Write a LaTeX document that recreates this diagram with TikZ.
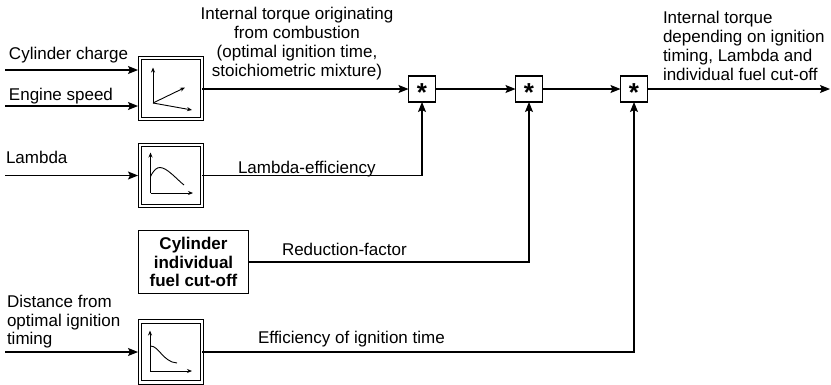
\documentclass[tikz,border=0pt]{standalone}
\usepackage{fontspec}
\setmainfont{Liberation Sans}
\usetikzlibrary{arrows.meta,calc}
\begin{document}
\begin{tikzpicture}[x=1pt,y=-1pt,
  every node/.style={inner sep=0pt, outer sep=0pt},
  lbl/.style={font=\fontsize{17}{18.7}\selectfont},
  mapbox/.style={draw, double, double distance=2.5pt, line width=1pt, minimum width=62pt, minimum height=61pt},
  cutbox/.style={draw, line width=1.1pt, minimum width=110pt, minimum height=63pt, align=center, font=\fontsize{17}{18.5}\selectfont\bfseries},
  mul/.style={draw, line width=1.1pt, minimum width=27pt, minimum height=26pt, font=\fontsize{26}{26}\selectfont\bfseries},
  arr/.style={line width=1.1pt, -{Stealth[length=10pt, width=8pt, inset=2pt]}},
  icon/.style={line width=0.9pt, -{Stealth[length=5pt, width=4pt]}},
  curve/.style={line width=0.9pt}
]
\useasboundingbox (0,0) rectangle (831,384);

% blocks
\node[mapbox] (map1) at (171,88.5) {};
\node[mapbox] (map2) at (171,175.5) {};
\node[cutbox] (cut) at (193.5,262) {Cylinder\\individual\\fuel cut-off};
\node[mapbox] (map3) at (171,352) {};

\node[mul] (m1) at (422,89) {\smash{\raisebox{-12pt}{*}}};
\node[mul] (m2) at (529,89) {\smash{\raisebox{-12pt}{*}}};
\node[mul] (m3) at (634,89) {\smash{\raisebox{-12pt}{*}}};

% icons
\begin{scope}[shift={(map1.center)}]
  \draw[icon] (-18,14.5) -- (-18,-21);
  \draw[icon] (-18,14.5) -- (14,-1);
  \draw[icon] (-18,14.5) -- (21,21.5);
\end{scope}
\begin{scope}[shift={(map2.center)}]
  \draw[icon] (-20.5,17.5) -- (-20.5,-23);
  \draw[icon] (-20.5,17.5) -- (22,17.5);
  \draw[curve] (-20.5,1) .. controls (-17,-6) and (-14,-8) .. (-11,-8)
               .. controls (-4,-8) and (6,4) .. (13,9.5);
\end{scope}
\begin{scope}[shift={(map3.center)}]
  \draw[icon] (-21,19) -- (-21,-21.5);
  \draw[icon] (-21,19) -- (21,19);
  \draw[curve] (-20.5,-6) .. controls (-12,-6) and (-8,10) .. (6,11);
\end{scope}

% inputs
\coordinate (i1) at (5,70);
\coordinate (i2) at (5,106);
\coordinate (i3) at (5,175.5);
\coordinate (i4) at (5,352);
\draw[arr, shorten >=2pt] (i1) -- (i1 -| map1.west);
\draw[arr, shorten >=2pt] (i2) -- (i2 -| map1.west);
\draw[arr, shorten >=2pt] (i3) -- (map2.west);
\draw[arr, shorten >=2pt] (i4) -- (map3.west);

% main chain
\coordinate (out) at (830,89);
\draw[arr] (map1.east |- m1.west) -- (m1.west);
\draw[arr] (m1.east) -- (m2.west);
\draw[arr] (m2.east) -- (m3.west);
\draw[arr] (m3.east) -- (out);
\draw[arr] (map2.east) -| (m1.south);
\draw[arr] (cut.east) -| (m2.south);
\draw[arr] (map3.east) -| (m3.south);

% labels
\node[lbl, anchor=base west] (tcc) at (9,59) {Cylinder charge};
\node[lbl, anchor=base west] (tes) at (9,100) {Engine speed};
\node[lbl, anchor=base west] (tla) at (6,163) {Lambda};
\node[lbl, anchor=north west, align=left] (tdi) at (7,295) {Distance from\\optimal ignition\\timing};
\node[lbl, anchor=base west] (tle) at (238,173) {Lambda-efficiency};
\node[lbl, anchor=base west] (trf) at (282,255) {Reduction-factor};
\node[lbl, anchor=base west] (tei) at (258,343) {Efficiency of ignition time};
\node[lbl, anchor=north, align=center] (tit) at (297,7.6) {Internal torque originating\\from combustion\\(optimal ignition time,\\stoichiometric mixture)};
\node[lbl, anchor=north west, align=left] (tout) at (663,11.6) {Internal torque\\depending on ignition\\timing, Lambda and\\individual fuel cut-off};
\end{tikzpicture}
\end{document}
